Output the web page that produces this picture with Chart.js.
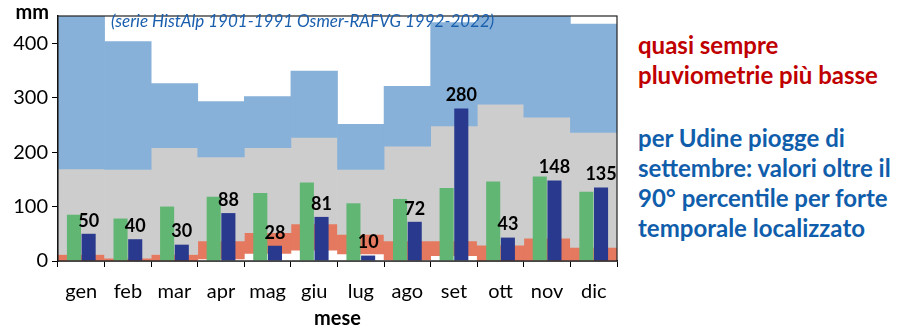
<!DOCTYPE html>
<html>
<head>
<meta charset="utf-8">
<script src="https://cdn.jsdelivr.net/npm/chart.js@4"></script>
<style>
  body { margin: 0; background: #fff; font-family: Lato, sans-serif; }
  #wrap { position: relative; width: 900px; height: 328px; }
  #box { position: absolute; left: 0; top: 0; width: 630px; height: 328px; }
  .note { position: absolute; left: 638px; font-weight: bold; font-size: 24px; line-height: 30px; white-space: nowrap; }
  #rosso { top: 30px; color: #c00000; }
  #blu { top: 123px; color: #105eab; }
</style>
</head>
<body>
<div id="wrap">
  <div id="box"><canvas id="grafico"></canvas></div>
  <div class="note" id="rosso">quasi sempre<br>pluviometrie più basse</div>
  <div class="note" id="blu">per Udine piogge di<br>settembre: valori oltre il<br>90° percentile per forte<br>temporale localizzato</div>
</div>
<script>
const mesi = ['gen', 'feb', 'mar', 'apr', 'mag', 'giu', 'lug', 'ago', 'set', 'ott', 'nov', 'dic'];

// bande climatologiche (mm)
const minimo  = [0, 0, 0, 4, 14, 20, 13, 2, 10, 0, 1, 0];
const perc10  = [12, 5, 12, 37, 52, 68, 49, 37, 37, 29, 42, 25];
const perc90  = [169, 168, 208, 191, 208, 227, 168, 211, 248, 288, 264, 236];
const massimo = [450, 403, 326, 293, 302, 349, 251, 321, 438, 450, 450, 435];

// piogge mensili
const mediana = [85, 78, 100, 118, 125, 144, 106, 114, 134, 146, 155, 127];
const anno    = [50, 40, 30, 88, 28, 81, 10, 72, 280, 43, 148, 135];

const tickY = [0, 100, 200, 300, 400];

const banda = (lo, hi) => mesi.map((m, i) => [lo[i], hi[i]]);
const zero = mesi.map(() => 0);

const fondo = {
  grouped: false,
  barPercentage: 1,
  categoryPercentage: 1,
  borderWidth: 0,
  clip: 0
};

// etichette sopra le barre blu + testi fissi
const scritte = {
  id: 'scritte',
  afterDatasetsDraw(chart) {
    const ctx = chart.ctx;
    const a = chart.chartArea;
    ctx.save();
    ctx.strokeStyle = '#222';
    ctx.lineWidth = 1.2;
    ctx.strokeRect(a.left, a.top, a.right - a.left, a.bottom - a.top);

    const meta = chart.getDatasetMeta(1);
    ctx.fillStyle = '#000';
    ctx.font = 'bold 18px Lato';
    ctx.textAlign = 'center';
    ctx.textBaseline = 'bottom';
    meta.data.forEach((bar, i) => {
      ctx.fillText(anno[i], bar.x, bar.y - 4);
    });

    ctx.font = 'italic 17px Lato';
    ctx.fillStyle = '#1a5fae';
    ctx.textAlign = 'left';
    ctx.textBaseline = 'middle';
    ctx.fillText('(serie HistAlp 1901-1991 Osmer-RAFVG 1992-2022)', 111, 22);

    ctx.font = 'bold 20px Lato';
    ctx.fillStyle = '#000';
    ctx.textAlign = 'right';
    ctx.fillText('mm', a.left - 9, 13);
    ctx.restore();
  }
};

new Chart(document.getElementById('grafico'), {
  type: 'bar',
  data: {
    labels: mesi,
    datasets: [
      { label: 'mediana', data: mediana, backgroundColor: '#62b674', barPercentage: 0.96, categoryPercentage: 0.63 },
      { label: 'anno', data: anno, backgroundColor: '#293a8e', barPercentage: 0.96, categoryPercentage: 0.63 },
      { label: 'max', data: banda(perc90, massimo), backgroundColor: '#87b1d9', ...fondo },
      { label: '10-90', data: banda(perc10, perc90), backgroundColor: '#cdcdcd', ...fondo },
      { label: 'min-10', data: banda(minimo, perc10), backgroundColor: '#e4795f', ...fondo },
      { label: 'min', data: banda(zero, minimo), backgroundColor: '#ffffff', ...fondo }
    ]
  },
  options: {
    responsive: true,
    maintainAspectRatio: false,
    animation: false,
    layout: { padding: { left: 0, right: 13, top: 9, bottom: 0 } },
    plugins: { legend: { display: false }, tooltip: { enabled: false } },
    scales: {
      x: {
        grid: { offset: true, drawOnChartArea: false, tickLength: 6, color: '#000' },
        border: { color: '#000', width: 1.5 },
        ticks: { color: '#000', font: { family: 'Lato', size: 20 }, padding: 13 },
        title: { display: true, text: 'mese', color: '#000', font: { family: 'Lato', size: 20, weight: 'bold', lineHeight: 1 }, padding: { top: 0, bottom: -1 } },
        afterFit: s => { s.height = 67; }
      },
      y: {
        min: 0,
        max: 450,
        grid: { drawOnChartArea: false, tickLength: 6, color: '#000' },
        border: { color: '#000', width: 1.5 },
        ticks: { color: '#000', font: { family: 'Lato', size: 20 }, padding: 4 },
        afterBuildTicks: s => { s.ticks = tickY.map(v => ({ value: v })); },
        afterFit: s => { s.width = 58; }
      }
    }
  },
  plugins: [scritte]
});
</script>
</body>
</html>
